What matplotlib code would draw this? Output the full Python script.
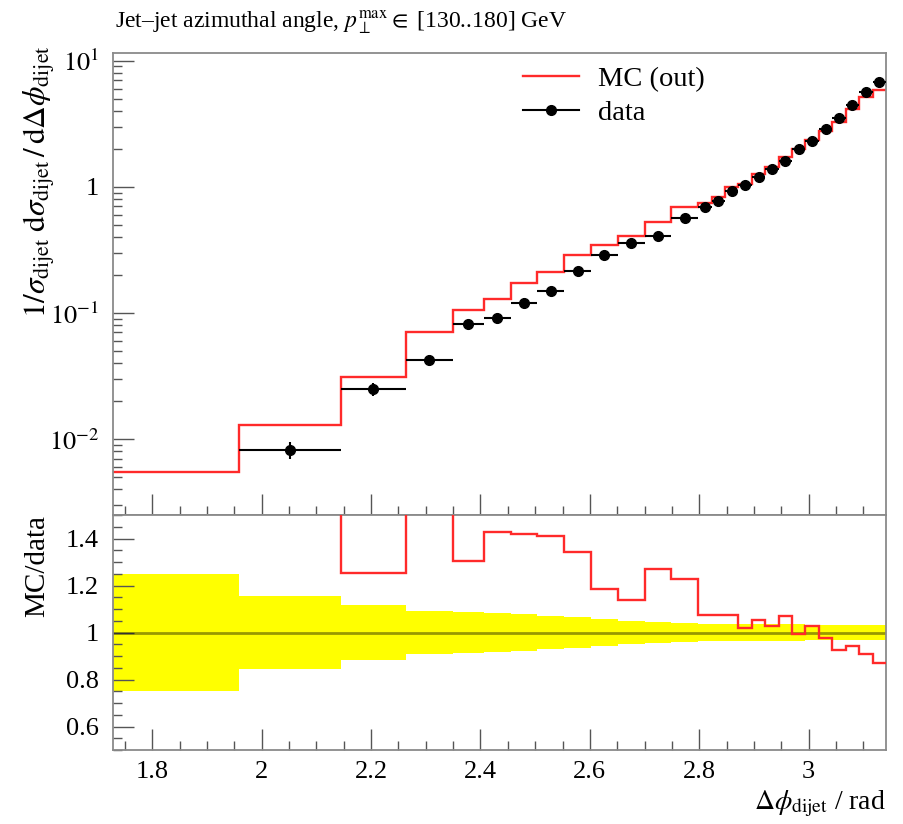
import numpy as np
import matplotlib
matplotlib.use("Agg")
import matplotlib.pyplot as plt
from matplotlib.lines import Line2D
from matplotlib.ticker import (FixedLocator, FixedFormatter, MultipleLocator,
                               LogLocator, NullFormatter, FuncFormatter)

plt.rcParams["font.family"] = ["Liberation Serif", "DejaVu Serif"]
plt.rcParams["mathtext.fontset"] = "stix"

# Delta-phi bin edges (rad)
edges = [1.7279, 1.959, 2.145, 2.263, 2.349, 2.406, 2.455, 2.504, 2.553, 2.602,
         2.651, 2.700, 2.749, 2.798, 2.8225, 2.8471, 2.8716, 2.8962, 2.9207,
         2.9452, 2.9698, 2.9943, 3.0189, 3.0434, 3.0680, 3.0925, 3.1170, 3.1416]

# normalised cross section, measured
data = [np.nan, 0.00823, 0.0249, 0.0425, 0.0815, 0.0910, 0.1209, 0.1505, 0.2157,
        0.2886, 0.3593, 0.4106, 0.5640, 0.697, 0.773, 0.933, 1.041, 1.204,
        1.394, 1.604, 1.989, 2.294, 2.861, 3.516, 4.416, 5.649, 6.779]

# relative total uncertainty of the measurement
data_rel_err = [0.250, 0.157, 0.117, 0.092, 0.088, 0.085, 0.079, 0.071, 0.064,
                0.057, 0.050, 0.045, 0.040, 0.038, 0.037, 0.037, 0.036, 0.036,
                0.035, 0.035, 0.035, 0.034, 0.034, 0.034, 0.033, 0.033, 0.033]

# generator prediction
mc = [0.00548, 0.0130, 0.0312, 0.0712, 0.1063, 0.1298, 0.1716, 0.2121, 0.2899,
      0.3426, 0.4085, 0.5223, 0.6932, 0.7493, 0.8310, 1.003, 1.061, 1.269,
      1.434, 1.718, 1.977, 2.354, 2.792, 3.256, 4.164, 5.124, 5.891]

edges_a = np.array(edges)
data_a = np.array(data, dtype=float)
rel_a = np.array(data_rel_err)
mc_a = np.array(mc)
centers = 0.5 * (edges_a[:-1] + edges_a[1:])
halfw = 0.5 * np.diff(edges_a)
ratio = mc_a / data_a

RED = "#ff2a2a"
SPINE = "#8a8a8a"
TICK = "#555555"
FS = 19

fig = plt.figure(figsize=(9.04, 8.24), dpi=100)
W, H = 904.0, 824.0
ax = fig.add_axes([113 / W, 1 - 515 / H, 773 / W, 462 / H])
rax = fig.add_axes([113 / W, 1 - 750 / H, 773 / W, 235 / H], sharex=ax)

# main panel
ax.stairs(mc_a, edges_a, color=RED, lw=1.7, baseline=None, zorder=2)
ax.errorbar(centers, data_a, xerr=halfw, yerr=data_a * rel_a, fmt="o",
            color="black", ms=7, lw=1.5, capsize=0, zorder=3)
ax.set_yscale("log")
ax.set_xlim(edges_a[0], edges_a[-1])
ax.set_ylim(0.0025, 11.5)

ax.yaxis.set_major_locator(FixedLocator([0.01, 0.1, 1, 10]))
ax.yaxis.set_major_formatter(FixedFormatter(
    [r"$10^{-2}$", r"$10^{-1}$", "1", r"$10^{1}$"]))
ax.yaxis.set_minor_locator(LogLocator(base=10, subs=np.arange(2, 10)))
ax.yaxis.set_minor_formatter(NullFormatter())

handles = [Line2D([], [], color=RED, lw=1.7),
           Line2D([], [], color="black", lw=1.5, marker="o", ms=7)]
ax.legend(handles, ["MC (out)", "data"], loc="upper left",
          bbox_to_anchor=(0.53, 0.972), frameon=False, fontsize=20.5,
          handlelength=1.97, handletextpad=0.67, labelspacing=0.28,
          borderpad=0, borderaxespad=0)

ax.set_ylabel(r"$1/\sigma_{\rm dijet}\;{\rm d}\sigma_{\rm dijet}\,/\,{\rm d}\Delta\phi_{\rm dijet}$",
              fontsize=22.5, loc="top")
ax.yaxis.set_label_coords(-0.072, 1.017)

# ratio panel
rax.stairs(1 + rel_a, edges_a, baseline=1 - rel_a, fill=True,
           color="#ffff00", lw=0, zorder=1)
rax.axhline(1.0, color="black", alpha=0.4, lw=2, zorder=2)
rax.stairs(ratio, edges_a, color=RED, lw=1.7, baseline=None, zorder=3)
rax.set_ylim(0.5, 1.5)
rax.yaxis.set_major_locator(MultipleLocator(0.2))
rax.yaxis.set_minor_locator(MultipleLocator(0.05))
rax.yaxis.set_major_formatter(FuncFormatter(lambda v, p: "%g" % round(v, 3)))
rax.set_ylabel("MC/data", fontsize=21, loc="top")
rax.yaxis.set_label_coords(-0.081, 1.0)

rax.xaxis.set_major_locator(MultipleLocator(0.2))
rax.xaxis.set_minor_locator(MultipleLocator(0.05))
rax.xaxis.set_major_formatter(FuncFormatter(lambda v, p: "%g" % round(v, 3)))
rax.set_xlabel(r"$\Delta\phi_{\rm dijet}$ / rad", fontsize=20, loc="right")

for a in (ax, rax):
    for s in a.spines.values():
        s.set_color(SPINE)
        s.set_linewidth(1.3)
    a.tick_params(which="both", direction="in", top=False, right=False,
                  color=TICK, width=1.0, labelsize=FS)
    a.tick_params(which="major", length=15)
    a.tick_params(which="minor", length=6.5)
    a.tick_params(axis="y", which="major", pad=10)
    a.tick_params(axis="x", which="major", pad=8)
ax.tick_params(labelbottom=False)

fig.text(115 / W, 1 - 27 / H,
         r"Jet–jet azimuthal angle, $p_{\perp}^{\rm max} \in$ [130..180] GeV",
         ha="left", va="baseline", fontsize=17)

fig.savefig("out.png", dpi=100)
